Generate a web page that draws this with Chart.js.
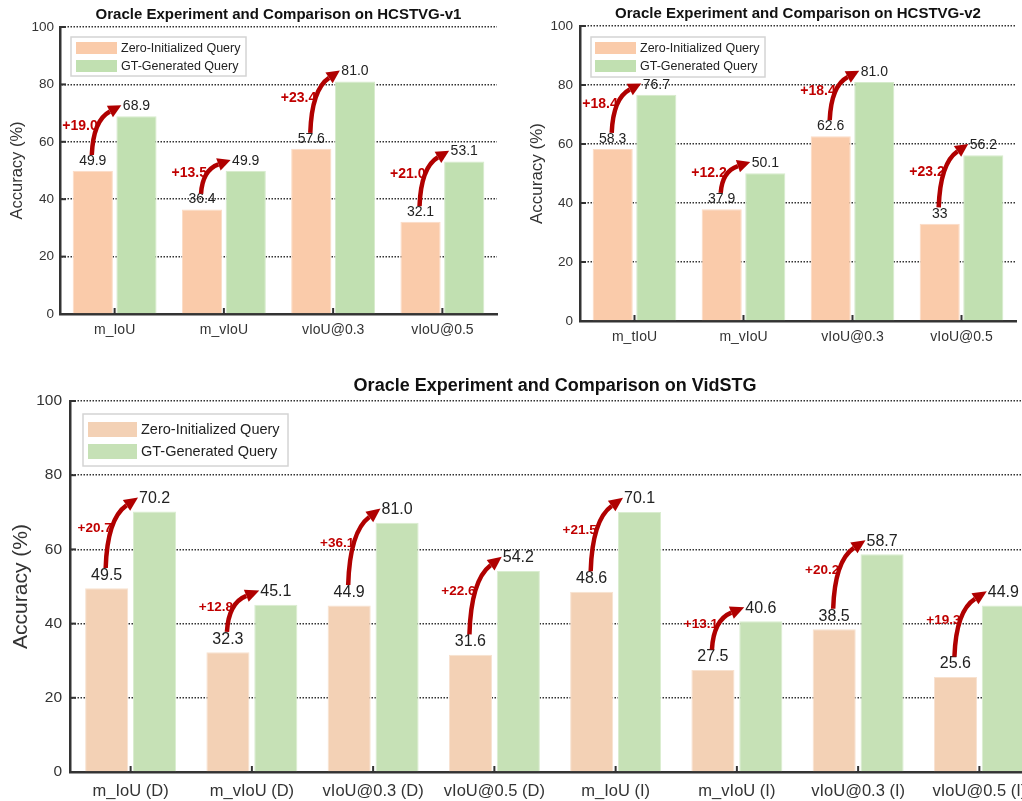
<!DOCTYPE html>
<html><head><meta charset="utf-8">
<script src="https://cdn.jsdelivr.net/npm/chart.js@4.4.1/dist/chart.umd.min.js"></script>
<style>
html,body{margin:0;padding:0;background:#fff;overflow:hidden;width:1022px;height:801px;position:relative;}
canvas{position:absolute;display:block;}
</style></head><body>
<canvas id="c1" width="500" height="350" style="left:0;top:0"></canvas>
<canvas id="c2" width="522" height="350" style="left:500px;top:0"></canvas>
<canvas id="c3" width="1060" height="436" style="left:0;top:365px"></canvas>
<script>
// ---------- data ----------
const seriesNames = ['Zero-Initialized Query', 'GT-Generated Query'];
const yTicks = [0, 20, 40, 60, 80, 100];

const v1Title = 'Oracle Experiment and Comparison on HCSTVG-v1';
const v1Categories = ['m_IoU', 'm_vIoU', 'vIoU@0.3', 'vIoU@0.5'];
const v1Zero = [49.9, 36.4, 57.6, 32.1];
const v1GT = [68.9, 49.9, 81.0, 53.1];
const v1ZeroLabels = ['49.9', '36.4', '57.6', '32.1'];
const v1GTLabels = ['68.9', '49.9', '81.0', '53.1'];
const v1Gains = ['+19.0', '+13.5', '+23.4', '+21.0'];

const v2Title = 'Oracle Experiment and Comparison on HCSTVG-v2';
const v2Categories = ['m_tIoU', 'm_vIoU', 'vIoU@0.3', 'vIoU@0.5'];
const v2Zero = [58.3, 37.9, 62.6, 33];
const v2GT = [76.7, 50.1, 81.0, 56.2];
const v2ZeroLabels = ['58.3', '37.9', '62.6', '33'];
const v2GTLabels = ['76.7', '50.1', '81.0', '56.2'];
const v2Gains = ['+18.4', '+12.2', '+18.4', '+23.2'];

const stgTitle = 'Oracle Experiment and Comparison on VidSTG';
const stgCategories = ['m_IoU (D)', 'm_vIoU (D)', 'vIoU@0.3 (D)', 'vIoU@0.5 (D)', 'm_IoU (I)', 'm_vIoU (I)', 'vIoU@0.3 (I)', 'vIoU@0.5 (I)'];
const stgZero = [49.5, 32.3, 44.9, 31.6, 48.6, 27.5, 38.5, 25.6];
const stgGT = [70.2, 45.1, 67.2, 54.2, 70.1, 40.6, 58.7, 44.9];
const stgZeroLabels = ['49.5', '32.3', '44.9', '31.6', '48.6', '27.5', '38.5', '25.6'];
const stgGTLabels = ['70.2', '45.1', '81.0', '54.2', '70.1', '40.6', '58.7', '44.9'];
const stgGains = ['+20.7', '+12.8', '+36.1', '+22.6', '+21.5', '+13.1', '+20.2', '+19.3'];

// ---------- drawing ----------
const FONT = "'Liberation Sans', Arial, Helvetica, sans-serif";

const decor = {
  id: 'decor',
  afterDatasetsDraw(chart, args, o) {
    const ctx = chart.ctx, ca = chart.chartArea;
    const xs = chart.scales.x, ys = chart.scales.y;
    const m0 = chart.getDatasetMeta(0), m1 = chart.getDatasetMeta(1);
    ctx.save();
    // inward tick marks
    ctx.strokeStyle = '#333'; ctx.lineWidth = 2;
    xs.ticks.forEach((t, i) => {
      const x = xs.getPixelForTick(i);
      ctx.beginPath(); ctx.moveTo(x, ca.bottom); ctx.lineTo(x, ca.bottom - o.tickLen); ctx.stroke();
    });
    ys.ticks.forEach(t => {
      const y = ys.getPixelForValue(t.value);
      ctx.beginPath(); ctx.moveTo(ca.left, y); ctx.lineTo(ca.left + o.tickLen, y); ctx.stroke();
    });
    // value labels
    ctx.fillStyle = '#222';
    ctx.font = o.labelSize + 'px ' + FONT;
    ctx.textAlign = 'center'; ctx.textBaseline = 'bottom';
    m0.data.forEach((b, i) => ctx.fillText(o.zeroLabels[i], b.x, b.y - o.labelGap));
    m1.data.forEach((b, i) => ctx.fillText(o.gtLabels[i], b.x, b.y - o.labelGap));
    // gains + arrows
    m0.data.forEach((b0, i) => {
      const b1 = m1.data[i];
      const sx = b0.x - 1;
      const sy = ys.getPixelForValue(chart.data.datasets[0].data[i] + 5.5);
      const tx = b1.x - b1.width / 2 + 5;
      const ty = ys.getPixelForValue(chart.data.datasets[1].data[i] + 3.8);
      const dx = tx - sx, dy = sy - ty;
      ctx.fillStyle = '#C00000';
      ctx.font = 'bold ' + o.gainSize + 'px ' + FONT;
      ctx.textAlign = 'right'; ctx.textBaseline = 'middle';
      ctx.fillText(o.gains[i], sx + 6, (sy + ty) / 2 - 4);
      const cx = sx + 0.05 * dx, cy = ty + 0.3 * dy;
      let ux = tx - cx, uy = ty - cy; const L = Math.hypot(ux, uy); ux /= L; uy /= L;
      const bx = tx - ux * o.headLen, by = ty - uy * o.headLen;
      ctx.strokeStyle = '#B00000'; ctx.lineWidth = o.arrowW; ctx.lineCap = 'butt';
      ctx.beginPath(); ctx.moveTo(sx, sy); ctx.quadraticCurveTo(cx, cy, bx, by); ctx.stroke();
      ctx.fillStyle = '#B00000';
      ctx.beginPath(); ctx.moveTo(tx, ty);
      ctx.lineTo(bx - uy * o.headW, by + ux * o.headW);
      ctx.lineTo(bx + uy * o.headW, by - ux * o.headW);
      ctx.closePath(); ctx.fill();
    });
    // legend
    const lx = ca.left + o.leg.x, ly = ca.top + o.leg.y;
    ctx.fillStyle = '#fff'; ctx.fillRect(lx, ly, o.leg.w, o.leg.h);
    ctx.strokeStyle = '#D4D4D4'; ctx.lineWidth = 1.5; ctx.strokeRect(lx, ly, o.leg.w, o.leg.h);
    ctx.font = o.leg.font + 'px ' + FONT; ctx.textAlign = 'left'; ctx.textBaseline = 'middle';
    chart.data.datasets.forEach((ds, i) => {
      const ry = ly + o.leg.rows[i];
      ctx.fillStyle = ds.backgroundColor;
      ctx.fillRect(lx + o.leg.sx, ry, o.leg.sw, o.leg.sh);
      ctx.fillStyle = '#222';
      ctx.fillText(ds.label, lx + o.leg.tx, ry + o.leg.sh / 2 + 0.5);
    });
    ctx.restore();
  }
};

function build(id, d, s) {
  return new Chart(document.getElementById(id), {
    type: 'bar',
    data: {
      labels: d.categories,
      datasets: [
        { label: seriesNames[0], data: d.zero, backgroundColor: s.orange, borderColor: s.orangeEdge, borderWidth: 1, categoryPercentage: s.cat, barPercentage: s.bar },
        { label: seriesNames[1], data: d.gt, backgroundColor: s.green, borderColor: s.greenEdge, borderWidth: 1, categoryPercentage: s.cat, barPercentage: s.bar }
      ]
    },
    plugins: [decor],
    options: {
      responsive: false, animation: false, events: [],
      layout: { padding: { left: 0, right: s.padRight, top: 0, bottom: 0 } },
      plugins: {
        legend: { display: false }, tooltip: { enabled: false },
        title: { display: true, text: d.title, fullSize: false, color: '#111',
          font: { family: FONT, size: s.titleSize, weight: 'bold', lineHeight: 1.2 },
          padding: { top: s.titlePadTop, bottom: s.titlePadBottom } },
        decor: {
          zeroLabels: d.zeroLabels, gtLabels: d.gtLabels, gains: d.gains,
          tickLen: 6, labelSize: s.labelSize, labelGap: s.labelGap, gainSize: s.gainSize,
          arrowW: 4.5, headLen: s.headLen, headW: 6.5, leg: s.leg
        }
      },
      scales: {
        x: {
          grid: { display: false, drawTicks: false },
          border: { display: true, color: '#333', width: 2.5 },
          ticks: { color: '#333', font: { family: FONT, size: s.xTickSize }, padding: s.xPad, maxRotation: 0, autoSkip: false },
          afterFit: sc => { sc.height = s.xHeight; }
        },
        y: {
          min: 0, max: 100,
          afterBuildTicks: sc => { sc.ticks = yTicks.map(v => ({ value: v })); },
          grid: { color: '#333', lineWidth: 1.5, drawTicks: false },
          border: { display: true, color: '#333', width: 2.5, dash: [1.5, 1.5] },
          ticks: { color: '#333', font: { family: FONT, size: s.yTickSize }, padding: s.yPad },
          title: { display: true, text: 'Accuracy (%)', color: '#333', font: { family: FONT, size: s.yTitleSize, lineHeight: 1.2 }, padding: { top: s.yTitlePad, bottom: 0 } },
          afterFit: sc => { sc.width = s.yWidth; }
        }
      }
    }
  });
}

const topStyle = {
  orange: '#FACBAA', green: '#C1E0B1', orangeEdge: '#FBDCC6', greenEdge: '#D6EBCC', cat: 0.8, bar: 0.92,
  titleSize: 15, labelSize: 14, labelGap: 3, gainSize: 14, headLen: 13,
  xTickSize: 14, xPad: 8, yTickSize: 13.5
};

build('c1', { title: v1Title, categories: v1Categories, zero: v1Zero, gt: v1GT, zeroLabels: v1ZeroLabels, gtLabels: v1GTLabels, gains: v1Gains },
  Object.assign({}, topStyle, {
    padRight: 3, titlePadTop: 6, titlePadBottom: 3, xHeight: 36, yWidth: 60, yPad: 6,
    yTitleSize: 16.5, yTitlePad: 8,
    leg: { x: 11, y: 10, w: 175, h: 39, sx: 5, sw: 41, sh: 12, rows: [5, 23], tx: 50, font: 12.5 }
  }));

build('c2', { title: v2Title, categories: v2Categories, zero: v2Zero, gt: v2GT, zeroLabels: v2ZeroLabels, gtLabels: v2GTLabels, gains: v2Gains },
  Object.assign({}, topStyle, {
    padRight: 6, titlePadTop: 5, titlePadBottom: 3, xHeight: 29, yWidth: 80, yPad: 7,
    yTitleSize: 17, yTitlePad: 26.8,
    leg: { x: 11, y: 11, w: 174, h: 40, sx: 4, sw: 41, sh: 12, rows: [5, 23], tx: 49, font: 12.5 }
  }));

build('c3', { title: stgTitle, categories: stgCategories, zero: stgZero, gt: stgGT, zeroLabels: stgZeroLabels, gtLabels: stgGTLabels, gains: stgGains },
  {
    orange: '#F3D1B5', green: '#C6E1B6', orangeEdge: '#F8E2D0', greenEdge: '#DAEDD0', cat: 0.79, bar: 0.9,
    titleSize: 18, labelSize: 16, labelGap: 5, gainSize: 13.5, headLen: 14,
    xTickSize: 16.5, xPad: 10, yTickSize: 15.5,
    padRight: 20, titlePadTop: 10.2, titlePadBottom: 4.2, xHeight: 29, yWidth: 70, yPad: 8,
    yTitleSize: 21, yTitlePad: 8.4,
    leg: { x: 13, y: 13, w: 205, h: 52, sx: 5, sw: 49, sh: 15, rows: [8, 30], tx: 58, font: 14.5 }
  });
</script>
</body></html>
